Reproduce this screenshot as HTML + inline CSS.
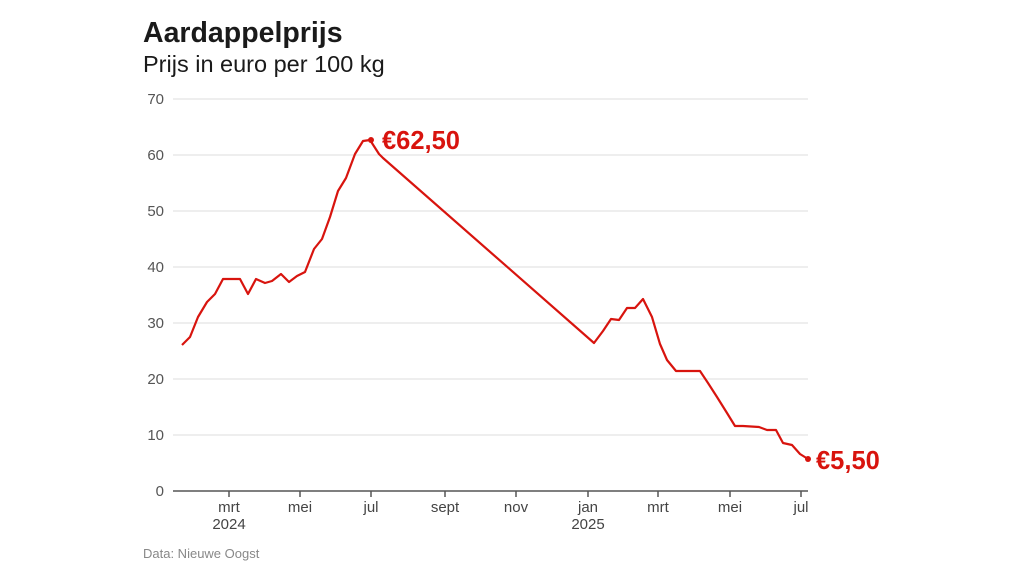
<!DOCTYPE html>
<html><head><meta charset="utf-8"><style>
body{margin:0;width:1024px;height:576px;background:#fff;font-family:"Liberation Sans",sans-serif;overflow:hidden}
</style></head><body>
<svg width="1024" height="576" xmlns="http://www.w3.org/2000/svg" font-family="Liberation Sans, sans-serif">
<text x="143" y="42" font-size="28.5" font-weight="bold" fill="#1a1a1a">Aardappelprijs</text>
<text x="143" y="72" font-size="23.5" fill="#1a1a1a">Prijs in euro per 100 kg</text>
<g stroke="#dcdcdc" stroke-width="1">
<line x1="173" x2="808" y1="99" y2="99"/><line x1="173" x2="808" y1="155" y2="155"/>
<line x1="173" x2="808" y1="211" y2="211"/><line x1="173" x2="808" y1="267" y2="267"/>
<line x1="173" x2="808" y1="323" y2="323"/><line x1="173" x2="808" y1="379" y2="379"/>
<line x1="173" x2="808" y1="435" y2="435"/>
</g>
<line x1="173" x2="808" y1="491" y2="491" stroke="#555" stroke-width="1.5"/>
<g font-size="15" fill="#555" text-anchor="end">
<text x="164" y="104">70</text><text x="164" y="160">60</text><text x="164" y="216">50</text>
<text x="164" y="272">40</text><text x="164" y="328">30</text><text x="164" y="384">20</text>
<text x="164" y="440">10</text><text x="164" y="496">0</text>
</g>
<g stroke="#555" stroke-width="1.5">
<line x1="229" x2="229" y1="491" y2="497"/><line x1="300" x2="300" y1="491" y2="497"/>
<line x1="371" x2="371" y1="491" y2="497"/><line x1="445" x2="445" y1="491" y2="497"/>
<line x1="516" x2="516" y1="491" y2="497"/><line x1="588" x2="588" y1="491" y2="497"/>
<line x1="658" x2="658" y1="491" y2="497"/><line x1="730" x2="730" y1="491" y2="497"/>
<line x1="801" x2="801" y1="491" y2="497"/>
</g>
<g font-size="15" fill="#444" text-anchor="middle">
<text x="229" y="512">mrt</text><text x="229" y="529">2024</text>
<text x="300" y="512">mei</text><text x="371" y="512">jul</text><text x="445" y="512">sept</text>
<text x="516" y="512">nov</text><text x="588" y="512">jan</text><text x="588" y="529">2025</text>
<text x="658" y="512">mrt</text><text x="730" y="512">mei</text><text x="801" y="512">jul</text>
</g>
<polyline fill="none" stroke="#d8140e" stroke-width="2.2" stroke-linejoin="round" points="182,345 190,337 198,317 207,302 215,294 223,279 240,279 248,294 256,279 265,283 272,281 281,274 289,282 297,276 305,272 314,249 322,239 330,217 338,191 346,178 355,154 363,141 370,140 379,154 383,158 594,343 603,331 611,319 619,320 627,308 635,308 643,299 652,317 660,344 667,360 676,371 700,371 708,383 717,397 727,413 735,426 743,426 759,427 767,430 776,430 783,443 792,445 800,454 808,459"/>
<circle cx="371" cy="140" r="3" fill="#d8140e"/>
<circle cx="808" cy="459" r="3" fill="#d8140e"/>
<text x="382" y="149" font-size="25.5" font-weight="bold" fill="#d8140e">€62,50</text>
<text x="816" y="469" font-size="25.5" font-weight="bold" fill="#d8140e">€5,50</text>
<text x="143" y="558" font-size="13" fill="#888">Data: Nieuwe Oogst</text>
</svg>
</body></html>
